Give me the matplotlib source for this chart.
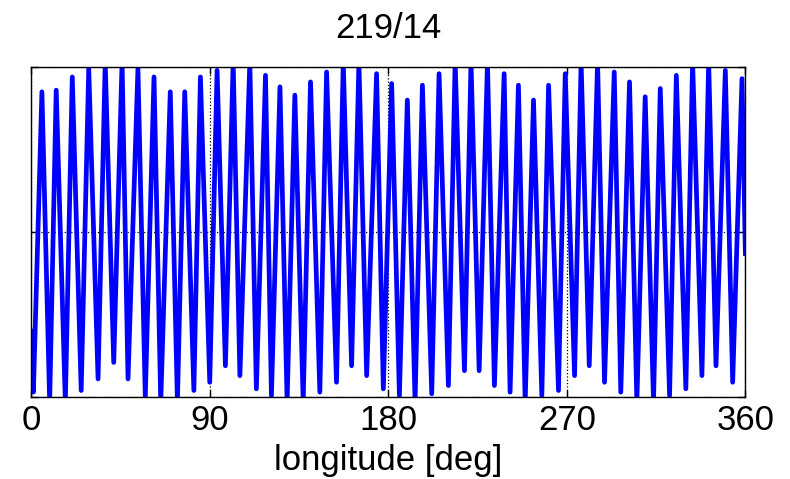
import matplotlib
matplotlib.use('Agg')
import matplotlib.pyplot as plt
import numpy as np

plt.rcParams['font.family'] = ['Liberation Sans', 'DejaVu Sans']

title = '219/14'
xlabel = 'longitude [deg]'
xticks = [0, 90, 180, 270, 360]

# crests of the curve (longitude in deg, value)
peak_lon = [5.4, 12.6, 20.7, 29.0, 37.3, 45.8, 53.8, 61.9, 70.1, 77.4,
            85.3, 93.7, 101.8, 110.2, 118.1, 125.4, 132.9, 140.8, 148.9, 157.3,
            165.2, 174.1, 181.7, 189.6, 197.2, 205.6, 213.7, 221.7, 230.0, 238.4,
            245.6, 253.2, 260.8, 269.2, 277.2, 285.5, 293.9, 301.6, 309.5, 317.1,
            325.2, 333.4, 341.5, 349.9, 358.3]
peak_val = [0.85, 0.86, 0.94, 0.99, 1.03, 1.03, 0.99, 0.94, 0.85, 0.85,
            0.94, 0.98, 1.03, 1.03, 0.95, 0.88, 0.83, 0.91, 0.97, 1.03,
            1.03, 0.96, 0.90, 0.80, 0.89, 0.96, 1.03, 1.03, 1.03, 0.96,
            0.89, 0.80, 0.89, 0.96, 1.03, 1.03, 0.97, 0.91, 0.82, 0.87,
            0.95, 1.03, 1.03, 0.98, 0.93]

# troughs of the curve
trough_lon = [1.1, 9.3, 17.2, 25.2, 33.7, 41.6, 48.8, 57.5, 65.3, 73.7,
              82.0, 90.0, 97.9, 105.2, 113.5, 121.1, 129.0, 137.1, 145.5, 153.9,
              161.5, 169.1, 177.5, 185.6, 193.5, 201.9, 210.3, 218.4, 225.8, 233.5,
              241.4, 249.0, 257.4, 265.8, 273.9, 281.3, 289.0, 297.2, 305.3, 313.7,
              321.8, 330.0, 338.1, 345.2, 353.6]
trough_val = [-0.97, -1.03, -1.03, -0.96, -0.89, -0.79, -0.89, -1.00, -1.03, -1.03,
              -0.96, -0.91, -0.81, -0.87, -0.95, -0.99, -1.03, -1.03, -0.97, -0.91,
              -0.81, -0.87, -0.95, -0.99, -1.03, -0.98, -0.93, -0.84, -0.84, -0.93,
              -0.97, -1.03, -0.99, -0.96, -0.87, -0.81, -0.91, -0.97, -1.03, -1.03,
              -0.99, -0.95, -0.87, -0.81, -0.91]

# end points
edge_lon = [0.0, 360.0]
edge_val = [-0.60, -0.13]

lon = np.array(edge_lon + peak_lon + trough_lon)
val = np.array(edge_val + peak_val + trough_val)
order = np.argsort(lon)
lon = lon[order]
val = val[order]

fig = plt.figure(figsize=(7.9, 4.79), dpi=100)
ax = fig.add_axes([0.0395, 0.171, 0.904, 0.689])

ax.plot(lon, val, color=(0, 0, 1), linewidth=3.4, solid_joinstyle='round')

ax.set_xlim(0, 360)
ax.set_ylim(-1, 1)
ax.set_xticks(xticks)
ax.set_xticklabels([str(t) for t in xticks])
ax.set_yticks([-1, 0, 1])
ax.set_yticklabels([])
ax.tick_params(direction='in', length=5, width=1, top=True, right=True,
               labelsize=25, pad=5, colors='black')
ax.grid(True, linestyle=':', color='black', linewidth=0.9)
ax.set_axisbelow(True)
for s in ax.spines.values():
    s.set_linewidth(1.0)
    s.set_color('black')

ax.set_xlabel(xlabel, fontsize=25, labelpad=5)
ax.set_title(title, fontsize=25, pad=21)

fig.savefig('out.png', dpi=100)
